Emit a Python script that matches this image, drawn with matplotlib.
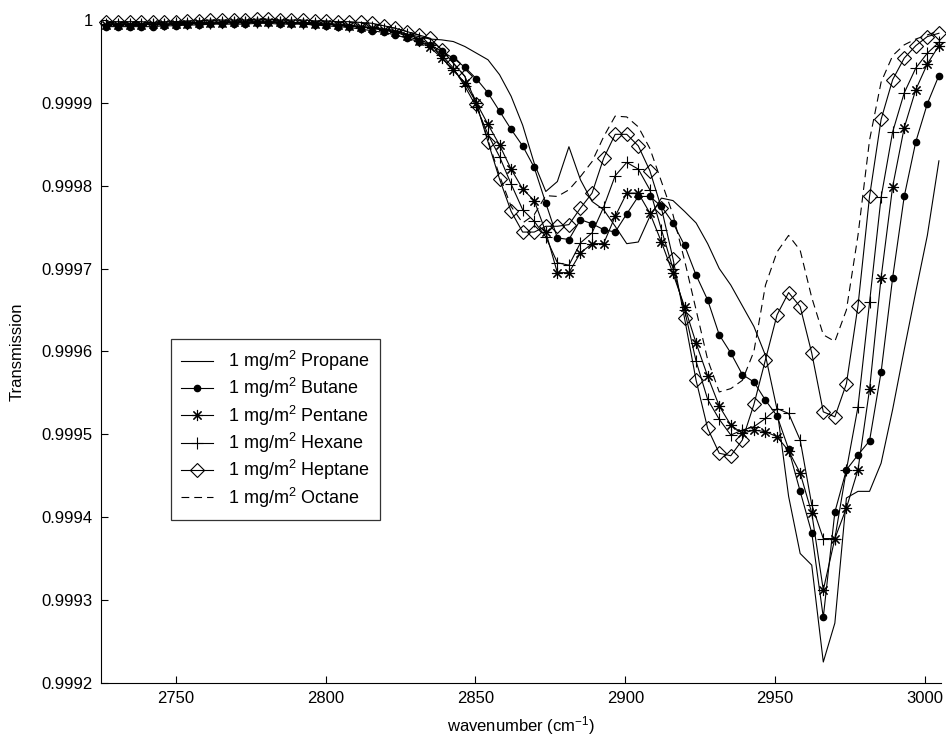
import numpy as np
import matplotlib
matplotlib.use("Agg")
import matplotlib.pyplot as plt

plt.rcParams['font.family'] = ['Liberation Sans', 'DejaVu Sans']
plt.rcParams['mathtext.fontset'] = 'custom'
plt.rcParams['mathtext.rm'] = 'Liberation Sans'
plt.rcParams['mathtext.default'] = 'regular'

# wavenumber grid of the spectra (cm-1)
wavenumber = 2726.9 + 3.857 * np.arange(73)

propane = [0.999996, 0.999996, 0.999996, 0.999996, 0.999996, 0.999996, 0.999997, 0.999997, 0.999997, 0.999997,
           0.999998, 0.999998, 0.999998, 0.999998, 0.999998, 0.999998, 0.999997, 0.999997, 0.999997, 0.999996,
           0.999995, 0.999994, 0.999992, 0.999990, 0.999988,
           0.999986, 0.999983, 0.999980, 0.999977, 0.999976, 0.999974, 0.999968, 0.999960, 0.999952, 0.999934, 0.999908,
           0.999873, 0.999827, 0.999793, 0.999805, 0.999847, 0.999807, 0.999781, 0.999771, 0.999751, 0.999730,
           0.999732, 0.999763, 0.999785, 0.999782, 0.999769, 0.999755,
           0.999730, 0.999700, 0.999680, 0.999655, 0.999630, 0.999595, 0.999530, 0.999425, 0.999356, 0.999342,
           0.999225, 0.999272, 0.999423, 0.999431, 0.999431, 0.999465, 0.999530, 0.999602, 0.999672, 0.999740, 0.999830]

butane = [0.999992, 0.999992, 0.999992, 0.999992, 0.999992, 0.999993, 0.999993, 0.999994, 0.999994, 0.999995,
          0.999995, 0.999995, 0.999995, 0.999996, 0.999996, 0.999995, 0.999995, 0.999995, 0.999994, 0.999993,
          0.999992, 0.999991, 0.999989, 0.999987, 0.999985,
          0.999982, 0.999978, 0.999974, 0.999970, 0.999962, 0.999954, 0.999943, 0.999929, 0.999912, 0.999890, 0.999868,
          0.999848, 0.999822, 0.999779, 0.999737, 0.999735, 0.999759, 0.999754, 0.999747, 0.999744, 0.999766,
          0.999787, 0.999787, 0.999775, 0.999755, 0.999728, 0.999692,
          0.999662, 0.999620, 0.999598, 0.999572, 0.999563, 0.999541, 0.999522, 0.999482, 0.999431, 0.999381,
          0.999279, 0.999406, 0.999457, 0.999475, 0.999492, 0.999575, 0.999689, 0.999787, 0.999853, 0.999899, 0.999933]

pentane = [0.999994, 0.999994, 0.999994, 0.999994, 0.999995, 0.999995, 0.999995, 0.999995, 0.999996, 0.999996,
           0.999996, 0.999997, 0.999997, 0.999997, 0.999997, 0.999997, 0.999996, 0.999996, 0.999995, 0.999995,
           0.999994, 0.999993, 0.999992, 0.999990, 0.999988,
           0.999985, 0.999981, 0.999975, 0.999967, 0.999954, 0.999940, 0.999924, 0.999900, 0.999874, 0.999849, 0.999820,
           0.999796, 0.999782, 0.999744, 0.999695, 0.999695, 0.999719, 0.999730, 0.999730, 0.999763, 0.999791,
           0.999791, 0.999767, 0.999732, 0.999694, 0.999654, 0.999610,
           0.999570, 0.999534, 0.999511, 0.999501, 0.999505, 0.999503, 0.999497, 0.999480, 0.999453, 0.999405,
           0.999312, 0.999374, 0.999411, 0.999457, 0.999554, 0.999689, 0.999799, 0.999870, 0.999916, 0.999947, 0.999969]

hexane = [0.999995, 0.999995, 0.999995, 0.999995, 0.999995, 0.999995, 0.999996, 0.999996, 0.999996, 0.999996,
          0.999997, 0.999997, 0.999997, 0.999997, 0.999997, 0.999997, 0.999997, 0.999996, 0.999996, 0.999995,
          0.999994, 0.999993, 0.999992, 0.999991, 0.999989,
          0.999987, 0.999983, 0.999978, 0.999970, 0.999958, 0.999942, 0.999920, 0.999895, 0.999862, 0.999835, 0.999802,
          0.999771, 0.999757, 0.999738, 0.999707, 0.999704, 0.999731, 0.999743, 0.999774, 0.999812, 0.999828,
          0.999820, 0.999795, 0.999747, 0.999700, 0.999650, 0.999588,
          0.999542, 0.999518, 0.999499, 0.999505, 0.999509, 0.999519, 0.999531, 0.999525, 0.999493, 0.999415,
          0.999374, 0.999374, 0.999457, 0.999533, 0.999659, 0.999786, 0.999865, 0.999912, 0.999942, 0.999960, 0.999973]

heptane = [0.999998, 0.999998, 0.999998, 0.999998, 0.999997, 0.999998, 0.999998, 0.999999, 0.999999, 1.000000,
           1.000000, 1.000000, 1.000000, 1.000001, 1.000001, 1.000000, 1.000000, 1.000000, 0.999999, 0.999999,
           0.999998, 0.999998, 0.999997, 0.999996, 0.999993,
           0.999990, 0.999986, 0.999982, 0.999978, 0.999964, 0.999948, 0.999932, 0.999899, 0.999853, 0.999808, 0.999769,
           0.999744, 0.999744, 0.999751, 0.999751, 0.999753, 0.999773, 0.999791, 0.999833, 0.999862, 0.999862,
           0.999848, 0.999818, 0.999773, 0.999712, 0.999640, 0.999565,
           0.999507, 0.999477, 0.999474, 0.999493, 0.999536, 0.999590, 0.999644, 0.999671, 0.999654, 0.999598,
           0.999527, 0.999521, 0.999561, 0.999655, 0.999787, 0.999880, 0.999928, 0.999954, 0.999969, 0.999980, 0.999984]

octane = [0.999997, 0.999997, 0.999997, 0.999997, 0.999997, 0.999997, 0.999998, 0.999998, 0.999998, 0.999999,
          0.999999, 0.999999, 0.999999, 1.000000, 1.000000, 0.999999, 0.999999, 0.999999, 0.999998, 0.999998,
          0.999997, 0.999997, 0.999996, 0.999995, 0.999993,
          0.999990, 0.999986, 0.999982, 0.999977, 0.999964, 0.999948, 0.999932, 0.999900, 0.999855, 0.999812, 0.999775,
          0.999755, 0.999765, 0.999788, 0.999787, 0.999795, 0.999811, 0.999829, 0.999859, 0.999884, 0.999883,
          0.999871, 0.999845, 0.999805, 0.999765, 0.999710, 0.999650,
          0.999590, 0.999551, 0.999555, 0.999565, 0.999600, 0.999680, 0.999720, 0.999740, 0.999722, 0.999665,
          0.999620, 0.999612, 0.999650, 0.999740, 0.999855, 0.999925, 0.999957, 0.999970, 0.999977, 0.999982, 0.999987]

labels = ['1 mg/m$^2$ Propane', '1 mg/m$^2$ Butane', '1 mg/m$^2$ Pentane',
          '1 mg/m$^2$ Hexane', '1 mg/m$^2$ Heptane', '1 mg/m$^2$ Octane']

xticks = [2750, 2800, 2850, 2900, 2950, 3000]
yticks = [0.9992, 0.9993, 0.9994, 0.9995, 0.9996, 0.9997, 0.9998, 0.9999, 1.0]
ytick_labels = ['0.9992', '0.9993', '0.9994', '0.9995', '0.9996', '0.9997', '0.9998', '0.9999', '1']

fig = plt.figure(figsize=(9.46, 7.38), dpi=100)
ax = fig.add_axes([0.1068, 0.0749, 0.8876, 0.898])

lw = 0.8
ax.plot(wavenumber, propane, '-', color='k', lw=lw, label=labels[0], clip_on=False)
ax.plot(wavenumber, butane, '-', color='k', lw=lw, marker='o', ms=4.5,
        mfc='k', mec='k', label=labels[1], clip_on=False)
ax.plot(wavenumber, pentane, '-', color='k', lw=lw, marker=(8, 2, 0), ms=8,
        mew=0.8, label=labels[2], clip_on=False)
ax.plot(wavenumber, hexane, '-', color='k', lw=lw, marker='+', ms=9,
        mew=0.8, label=labels[3], clip_on=False)
ax.plot(wavenumber, heptane, '-', color='k', lw=lw, marker='D', ms=7,
        mfc='none', mec='k', mew=0.8, label=labels[4], clip_on=False)
ax.plot(wavenumber, octane, color='k', lw=lw, dashes=(7, 4.5), label=labels[5], clip_on=False)

ax.set_xlim(2725.1, 3005.2)
ax.set_ylim(0.9992, 1.0)
ax.set_xticks(xticks)
ax.set_yticks(yticks)
ax.set_yticklabels(ytick_labels)
ax.tick_params(direction='in', length=5, width=0.8, labelsize=12, pad=6)
for side in ['top', 'right']:
    ax.spines[side].set_visible(False)
for side in ['left', 'bottom']:
    ax.spines[side].set_linewidth(0.8)

ax.set_xlabel('wavenumber (cm$^{-1}$)', fontsize=12, labelpad=6)
ax.set_ylabel('Transmission', fontsize=12, labelpad=12)

leg = ax.legend(loc='upper left', bbox_to_anchor=(0.0834, 0.5186), borderaxespad=0,
                fontsize=13, frameon=True, fancybox=False, edgecolor='k',
                handlelength=1.8, handletextpad=0.8, labelspacing=0.18, borderpad=0.55)
leg.get_frame().set_linewidth(0.9)

fig.savefig('out.png', dpi=100)
